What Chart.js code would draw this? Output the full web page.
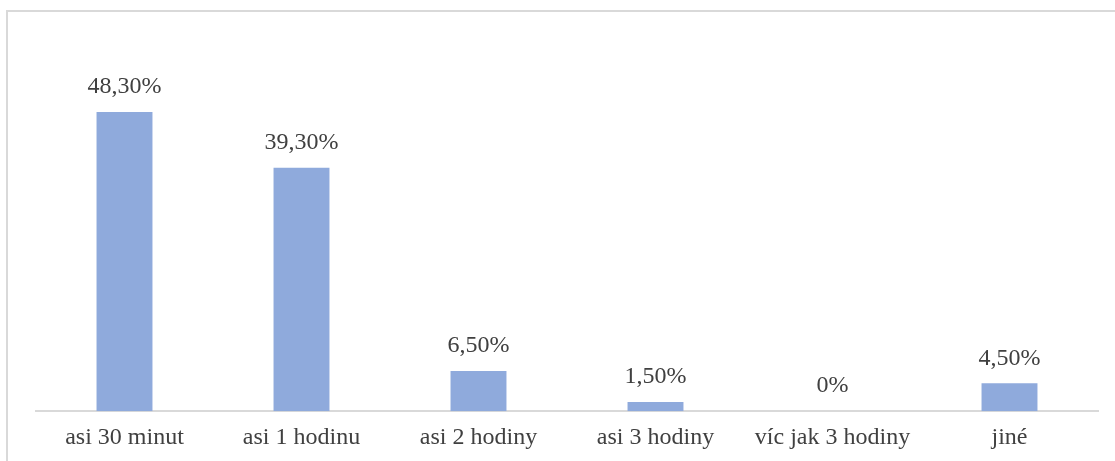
<!DOCTYPE html>
<html>
<head>
<meta charset="utf-8">
<script src="https://cdn.jsdelivr.net/npm/chart.js@4"></script>
<style>
  html, body { margin: 0; padding: 0; background: #fff; overflow: hidden; }
  #ramecek {
    position: absolute; left: 6px; top: 10px; width: 1200px; height: 500px;
    border-left: 2px solid #d9d9d9; border-top: 2px solid #d9d9d9;
  }
  #obal { position: absolute; left: 0; top: 0; width: 1115px; height: 474px; }
</style>
</head>
<body>
<div id="ramecek"></div>
<div id="obal"><canvas id="graf"></canvas></div>
<script>
// Kategorie a hodnoty (v %)
const kategorie = ["asi 30 minut", "asi 1 hodinu", "asi 2 hodiny", "asi 3 hodiny", "víc jak 3 hodiny", "jiné"];
const hodnoty = [48.3, 39.3, 6.5, 1.5, 0, 4.5];

const barvaSloupce = "#8faadc";
const barvaTextu = "#404040";
const pismo = "'Liberation Serif', 'Times New Roman', serif";

function formatuj(v) {
  if (v === 0) return "0%";
  return v.toFixed(2).replace(".", ",") + "%";
}

// popisky hodnot nad sloupci
const popisky = {
  id: "popisky",
  afterDatasetsDraw(chart) {
    const ctx = chart.ctx;
    const meta = chart.getDatasetMeta(0);
    ctx.save();
    ctx.font = "24px " + pismo;
    ctx.fillStyle = barvaTextu;
    ctx.textAlign = "center";
    ctx.textBaseline = "middle";
    meta.data.forEach(function (bar, i) {
      ctx.fillText(formatuj(hodnoty[i]), bar.x, bar.y - 25);
    });
    ctx.restore();
  }
};

new Chart(document.getElementById("graf"), {
  type: "bar",
  data: {
    labels: kategorie,
    datasets: [{
      data: hodnoty,
      backgroundColor: barvaSloupce,
      barPercentage: 0.316,
      categoryPercentage: 1
    }]
  },
  options: {
    responsive: true,
    maintainAspectRatio: false,
    animation: false,
    layout: { padding: { left: 36, right: 17, top: 101.5, bottom: 10 } },
    plugins: { legend: { display: false }, tooltip: { enabled: false } },
    scales: {
      x: {
        grid: { display: false, drawTicks: false, tickLength: 0 },
        border: { display: true, color: "#d9d9d9", width: 2 },
        ticks: { color: barvaTextu, font: { family: pismo, size: 24 }, padding: 12, maxRotation: 0 }
      },
      y: {
        display: false,
        min: 0,
        max: 50
      }
    }
  },
  plugins: [popisky]
});
</script>
</body>
</html>
